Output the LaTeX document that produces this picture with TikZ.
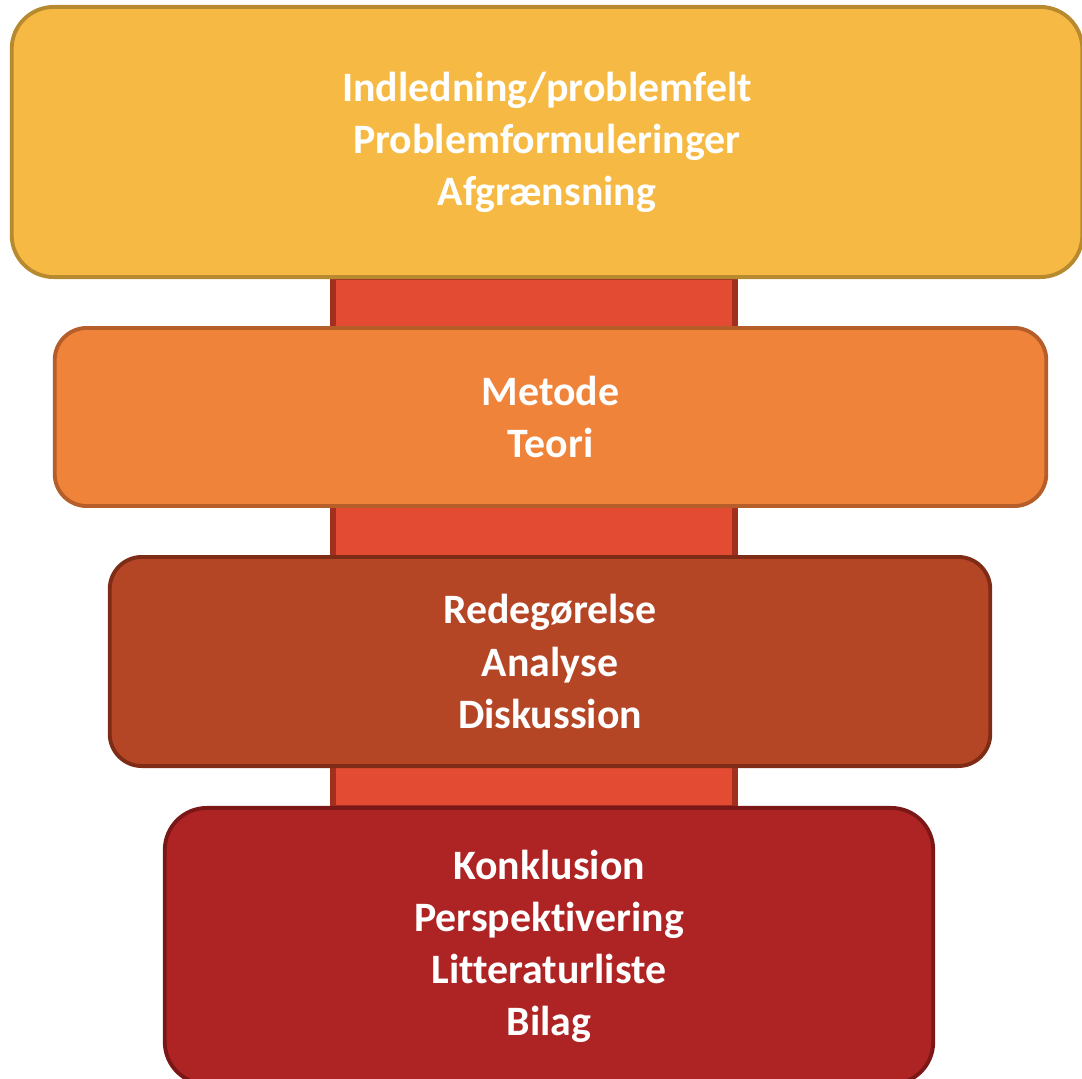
\documentclass[tikz,border=0pt]{standalone}
\usepackage{fontspec}
\setmainfont{Carlito}[Ligatures=NoCommon]
\usepackage{xcolor}
\definecolor{gulfyld}{HTML}{F6BA44}
\definecolor{gulkant}{HTML}{B88A30}
\definecolor{orangefyld}{HTML}{EF833A}
\definecolor{orangekant}{HTML}{B55E2A}
\definecolor{brunfyld}{HTML}{B44525}
\definecolor{brunkant}{HTML}{7F2C17}
\definecolor{roedfyld}{HTML}{AE2323}
\definecolor{roedkant}{HTML}{7C1717}
\definecolor{baandfyld}{HTML}{E34C33}
\definecolor{baandkant}{HTML}{A3301F}

\tikzset{
  afsnit/.style={rectangle, rounded corners=#1, line width=1.1pt, text=white, align=center,
    font=\fontsize{11.9}{14.8}\selectfont\bfseries, inner sep=0pt},
}

\begin{document}
\begin{tikzpicture}[line cap=round,line join=round,x=0.01cm,y=0.01cm]
                \useasboundingbox (0,0) rectangle (1082,1078);
                \clip (0,0) rectangle (1082,1078);
                % baand bag kasserne
                \coordinate (bt) at (333,801);
                \coordinate (bb) at (735,270);
                \draw [fill=baandfyld, draw=baandkant, line width=1.5pt] (bt) rectangle (bb);
                % kasserne
                \node[afsnit=0.42cm, fill=gulfyld, draw=gulkant, minimum width=10.70cm, minimum height=2.70cm] (indl) at (547,936)
                  {Indledning/problemfelt\\Problemformuleringer\\Afgrænsning};
                \node[afsnit=0.32cm, fill=orangefyld, draw=orangekant, minimum width=9.91cm, minimum height=1.78cm] (metode) at (550.5,661)
                  {Metode\\Teori};
                \node[afsnit=0.32cm, fill=brunfyld, draw=brunkant, minimum width=8.80cm, minimum height=2.09cm] (redeg) at (550,416.5)
                  {Redegørelse\\Analyse\\Diskussion};
                \node[afsnit=0.42cm, fill=roedfyld, draw=roedkant, minimum width=7.68cm, minimum height=2.76cm] (konkl) at (549,132)
                  {Konklusion\\Perspektivering\\Litteraturliste\\Bilag};
            \end{tikzpicture}
\end{document}
